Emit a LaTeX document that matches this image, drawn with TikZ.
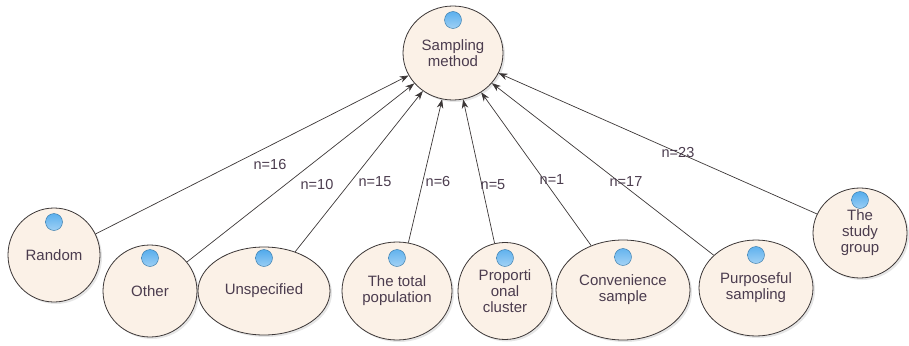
\documentclass[tikz,border=0pt]{standalone}
\usepackage{fontspec}
\setmainfont{Liberation Sans}
\usetikzlibrary{shapes.geometric, arrows.meta, shadows}
\definecolor{nodefill}{RGB}{251,241,231}
\definecolor{nodeedge}{RGB}{60,55,55}
\definecolor{txt}{RGB}{75,60,78}
\definecolor{ballblue}{RGB}{70,165,235}
\tikzstyle{method} = [ellipse, 
draw=nodeedge, 
fill=nodefill, 
line width=0.8pt, 
inner sep=1pt, 
align=center, 
text=txt, 
font=\fontsize{15}{16}\selectfont, 
drop shadow={opacity=0.2, shadow xshift=2pt, shadow yshift=-2pt}, 
path picture={
\shade[inner color=white, outer color=ballblue] ([yshift=33pt]path picture bounding box.center) circle (8.5pt);
\draw[ballblue!70!black, line width=0.4pt] ([yshift=33pt]path picture bounding box.center) circle (8.5pt);
}]
\tikzstyle{count} = [text=txt, 
font=\fontsize{14.5}{16}\selectfont, 
inner sep=1pt]
\tikzstyle{arrow} = [draw=nodeedge, line width=0.7pt, ->, >={Stealth[length=9pt, width=6.5pt]}]

\begin{document}
\begin{tikzpicture}[x=1pt, y=-1pt]
\useasboundingbox (0,0) rectangle (909,345);

\node (sampling) [method, minimum width=100pt, minimum height=94pt] at (453,53) {Sampling\\method};

\node (random) [method, minimum width=92pt, minimum height=94pt] at (54,255) {Random};
\draw [arrow] (random) -- (sampling);

\node (other) [method, minimum width=94pt, minimum height=92pt] at (150,291) {Other};
\draw [arrow] (other) -- (sampling);

\node (unspecified) [method, minimum width=132pt, minimum height=88pt] at (264,291) {Unspecified};
\draw [arrow] (unspecified) -- (sampling);

\node (total) [method, minimum width=110pt, minimum height=98pt] at (397,291) {The total\\population};
\draw [arrow] (total) -- (sampling);

\node (cluster) [method, minimum width=94pt, minimum height=97pt] at (505,291) {Proporti\\onal\\cluster};
\draw [arrow] (cluster) -- (sampling);

\node (convenience) [method, minimum width=134pt, minimum height=100pt] at (623,290) {Convenience\\sample};
\draw [arrow] (convenience) -- (sampling);

\node (purposeful) [method, minimum width=114pt, minimum height=96pt] at (756,288) {Purposeful\\sampling};
\draw [arrow] (purposeful) -- (sampling);

\node (study) [method, minimum width=94pt, minimum height=90pt] at (860,233) {The\\study\\group};
\draw [arrow] (study) -- (sampling);

% counts
\node (n16) [count] at (270,165) {n=16};
\node (n10) [count] at (317,185) {n=10};
\node (n15) [count] at (375,182) {n=15};
\node (n6) [count] at (438,182) {n=6};
\node (n5) [count] at (493,185) {n=5};
\node (n1) [count] at (552,180) {n=1};
\node (n17) [count] at (626,182) {n=17};
\node (n23) [count] at (678,153) {n=23};

\end{tikzpicture}
\end{document}
